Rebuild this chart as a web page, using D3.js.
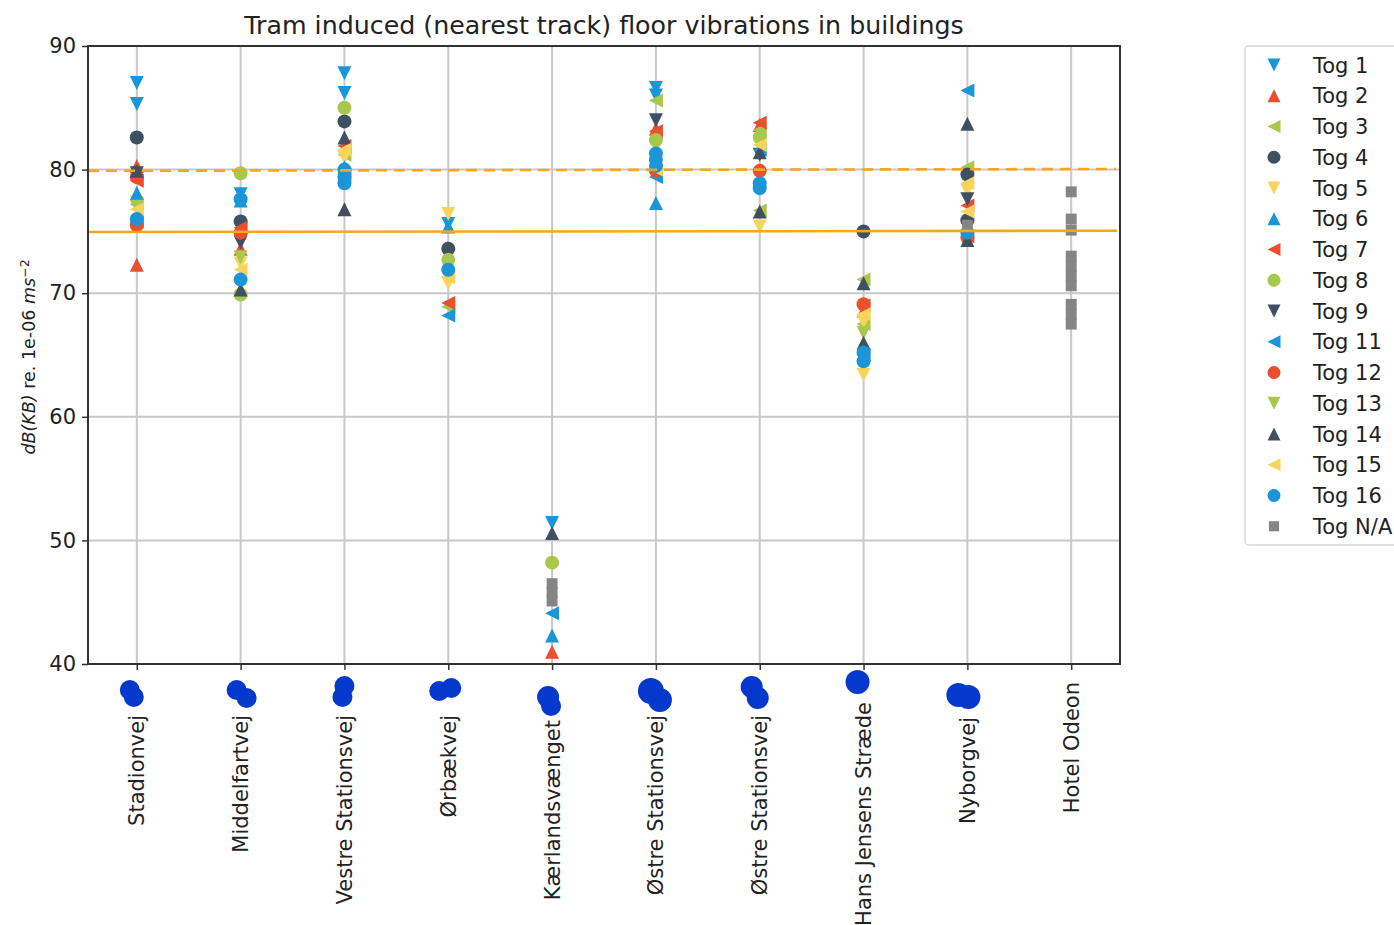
<!DOCTYPE html>
<html>
<head>
<meta charset="utf-8">
<script src="https://cdn.jsdelivr.net/npm/d3@7"></script>
<style>
  body { margin: 0; background: white; }
  svg text { font-family: "DejaVu Sans", sans-serif; }
</style>
</head>
<body>
<div id="plot"></div>
<script>
// building names along the x axis (two different buildings share a street name)
var categories = ["Stadionvej", "Middelfartvej", "Vestre Stationsvej", "Ørbækvej", "Kærlandsvænget",
    "Østre Stationsvej", "Østre Stationsvej", "Hans Jensens Stræde", "Nyborgvej", "Hotel Odeon"]

var yTicks = [40, 50, 60, 70, 80, 90]

// limit lines: [value at left edge, value at right edge]
var limitDashed = [79.9, 80.05]
var limitSolid = [74.95, 75.05]

// measurements per train: [building index, dB]
var tog1 = [[0, 87.0], [0, 85.3], [1, 78.0], [2, 87.8], [2, 86.2], [3, 75.6], [4, 51.4], [5, 86.6], [5, 86.0]]
var tog2 = [[0, 80.3], [0, 72.3], [1, 73.6], [4, 41.0], [5, 83.3], [6, 83.6], [7, 68.6]]
var tog3 = [[0, 77.2], [2, 81.2], [3, 68.9], [5, 85.6], [6, 83.2], [6, 76.7], [7, 71.1], [7, 67.5], [8, 80.2]]
var tog4 = [[0, 82.6], [1, 75.8], [2, 83.9], [3, 73.6], [7, 75.0], [8, 79.6], [8, 75.9]]
var tog5 = [[0, 77.3], [1, 72.4], [2, 81.0], [3, 76.4], [3, 70.8], [6, 82.3], [6, 75.4], [7, 67.7], [7, 63.4], [8, 78.3]]
var tog6 = [[0, 78.1], [1, 77.5], [2, 80.2], [3, 75.4], [4, 42.3], [5, 77.3]]
var tog7 = [[0, 79.1], [1, 75.3], [2, 81.9], [3, 69.2], [5, 83.1], [6, 83.8], [7, 69.0], [8, 77.1], [8, 74.6]]
var tog8 = [[1, 79.7], [1, 69.9], [2, 85.0], [3, 72.7], [4, 48.2], [5, 82.4], [6, 82.6]]
var tog9 = [[0, 79.7], [1, 74.1], [5, 84.0], [6, 81.2], [8, 77.6]]
var tog11 = [[0, 75.8], [2, 79.6], [3, 68.2], [4, 44.1], [5, 79.4], [6, 81.6], [7, 65.0], [8, 86.4]]
var tog12 = [[0, 79.4], [0, 75.5], [1, 74.9], [5, 79.9], [6, 79.9], [7, 69.1], [8, 74.5]]
var tog13 = [[0, 77.0], [1, 72.9], [5, 82.0], [7, 66.8]]
var tog14 = [[0, 79.9], [1, 70.3], [2, 82.6], [2, 76.8], [4, 50.6], [6, 81.4], [6, 76.6], [7, 70.8], [7, 66.0], [8, 83.7], [8, 74.3]]
var tog15 = [[0, 76.8], [1, 71.9], [2, 81.6], [3, 71.3], [5, 80.0], [6, 82.0], [7, 68.3], [8, 78.9], [8, 76.6]]
var tog16 = [[0, 76.0], [1, 77.6], [1, 71.1], [2, 80.0], [2, 79.4], [2, 78.9], [3, 71.9], [5, 81.3], [5, 80.8], [5, 80.3],
    [6, 78.9], [6, 78.5], [7, 65.2], [7, 64.5], [8, 74.9]]
var togNA = [[4, 46.5], [4, 45.8], [4, 45.1], [8, 75.5], [9, 78.2], [9, 76.0], [9, 75.1], [9, 73.0], [9, 72.2], [9, 71.4],
    [9, 70.6], [9, 69.1], [9, 68.3], [9, 67.5]]

var seriesNames = ["Tog 1", "Tog 2", "Tog 3", "Tog 4", "Tog 5", "Tog 6", "Tog 7", "Tog 8", "Tog 9", "Tog 11",
    "Tog 12", "Tog 13", "Tog 14", "Tog 15", "Tog 16", "Tog N/A"]
var seriesData = [tog1, tog2, tog3, tog4, tog5, tog6, tog7, tog8, tog9, tog11, tog12, tog13, tog14, tog15, tog16, togNA]

// styles
var blue = "#1a96d8", red = "#e8502e", green = "#a6c84c", dark = "#3e5061", yellow = "#f7d55c", gray = "#858585"
var seriesColors = [blue, red, green, dark, yellow, blue, red, green, dark, blue, red, green, dark, yellow, blue, gray]
var seriesMarkers = ["v", "^", "<", "o", "v", "^", "<", "o", "v", "<", "o", "v", "^", "<", "o", "s"]

// image dimensions and plot area
var w = 1394
var h = 925
var plotLeft = 88, plotRight = 1120, plotTop = 46, plotBottom = 664

var svg = d3.select("#plot").append("svg")
    .attr("width", w)
    .attr("height", h)

var xScale = d3.scalePoint()
    .domain(d3.range(categories.length))
    .range([plotLeft, plotRight])
    .padding(0.47)

var yScale = d3.scaleLinear()
    .domain([40, 90])
    .range([plotBottom, plotTop])

// marker path for a given shape
function markerPath(shape, s) {
    if (shape == "o") return d3.symbol(d3.symbolCircle, Math.PI * s * s)()
    if (shape == "s") return "M" + (-s * 0.78) + "," + (-s * 0.78) + "h" + (s * 1.56) + "v" + (s * 1.56) + "h" + (-s * 1.56) + "Z"
    if (shape == "^") return "M0," + (-s) + "L" + s + "," + s + "L" + (-s) + "," + s + "Z"
    if (shape == "v") return "M0," + s + "L" + s + "," + (-s) + "L" + (-s) + "," + (-s) + "Z"
    return "M" + (-s) + ",0L" + s + "," + (-s) + "L" + s + "," + s + "Z"
}

// grid lines
svg.append("g")
    .selectAll("line")
    .data(yTicks)
    .enter()
    .append("line")
    .attr("x1", plotLeft).attr("x2", plotRight)
    .attr("y1", function(d) { return yScale(d) })
    .attr("y2", function(d) { return yScale(d) })
    .attr("stroke", "#c8c8c8")
    .attr("stroke-width", 2)

svg.append("g")
    .selectAll("line")
    .data(d3.range(categories.length))
    .enter()
    .append("line")
    .attr("x1", function(d) { return xScale(d) })
    .attr("x2", function(d) { return xScale(d) })
    .attr("y1", plotTop).attr("y2", plotBottom)
    .attr("stroke", "#c8c8c8")
    .attr("stroke-width", 2)

// points
seriesData.forEach(function(data, i) {
    svg.append("g")
        .selectAll("path")
        .data(data)
        .enter()
        .append("path")
        .attr("d", markerPath(seriesMarkers[i], 7))
        .attr("transform", function(d) { return "translate(" + xScale(d[0]) + "," + yScale(d[1]) + ")" })
        .attr("fill", seriesColors[i])
})

// limit lines
svg.append("line")
    .attr("x1", plotLeft).attr("x2", plotRight - 4)
    .attr("y1", yScale(limitDashed[0])).attr("y2", yScale(limitDashed[1]))
    .attr("stroke", "#f5a623")
    .attr("stroke-width", 2.6)
    .attr("stroke-dasharray", "11,7")

svg.append("line")
    .attr("x1", plotLeft).attr("x2", plotRight - 3)
    .attr("y1", yScale(limitSolid[0])).attr("y2", yScale(limitSolid[1]))
    .attr("stroke", "#f5a623")
    .attr("stroke-width", 2.6)

// axes
var yAxis = d3.axisLeft(yScale).tickValues(yTicks).tickSize(6).tickPadding(6)
var gy = svg.append("g")
    .attr("transform", "translate(" + plotLeft + ",0)")
    .call(yAxis)
gy.selectAll("text").attr("font-size", "21px").attr("fill", "#222").attr("font-family", "'DejaVu Sans', sans-serif")
gy.selectAll("line").attr("stroke", "#333").attr("stroke-width", 1.5)
gy.select(".domain").remove()

var xAxis = d3.axisBottom(xScale).tickSize(6).tickFormat("")
var gx = svg.append("g")
    .attr("transform", "translate(0," + plotBottom + ")")
    .call(xAxis)
gx.selectAll("line").attr("stroke", "#333").attr("stroke-width", 1.5)
gx.select(".domain").remove()

// frame
svg.append("rect")
    .attr("x", plotLeft).attr("y", plotTop)
    .attr("width", plotRight - plotLeft).attr("height", plotBottom - plotTop)
    .attr("fill", "none")
    .attr("stroke", "#333")
    .attr("stroke-width", 2)

// rotated building labels (distance below the axis differs per label)
var labelPad = [51, 51, 51, 51, 56, 51, 51, 38, 53, 18]
svg.append("g")
    .selectAll("text")
    .data(categories)
    .enter()
    .append("text")
    .attr("transform", function(d, i) { return "translate(" + xScale(i) + "," + (plotBottom + labelPad[i]) + ") rotate(-90)" })
    .attr("text-anchor", "end")
    .attr("dy", "0.36em")
    .attr("font-size", "21px")
    .attr("fill", "#222")
    .text(function(d) { return d })

// hand-drawn blue blobs over the labels: [dx, y, r] per circle
var blobs = [
    [[-7, 690, 10], [-3, 697, 10]],
    [[-4, 690, 10], [6, 698, 10]],
    [[0, 686, 10], [-2, 697, 10]],
    [[-9, 691, 10], [3, 688, 10]],
    [[-4, 697, 11], [-1, 706, 10]],
    [[-5, 691, 13], [4, 700, 12]],
    [[-8, 687, 11], [-2, 698, 11]],
    [[-6, 682, 12]],
    [[-9, 695, 12], [1, 697, 12]]
]
blobs.forEach(function(b, i) {
    svg.append("g")
        .selectAll("circle")
        .data(b)
        .enter()
        .append("circle")
        .attr("cx", function(d) { return xScale(i) + d[0] })
        .attr("cy", function(d) { return d[1] })
        .attr("r", function(d) { return d[2] })
        .attr("fill", "#0538cc")
})

// title
svg.append("text")
    .attr("x", (plotLeft + plotRight) / 2)
    .attr("y", 34)
    .attr("text-anchor", "middle")
    .attr("font-size", "25.3px")
    .attr("fill", "#222")
    .text("Tram induced (nearest track) floor vibrations in buildings")

// y label with mathtext style parts
var ylab = svg.append("text")
    .attr("transform", "translate(35," + 357 + ") rotate(-90)")
    .attr("text-anchor", "middle")
    .attr("font-size", "17.5px")
    .attr("fill", "#222")
ylab.append("tspan").attr("font-style", "italic").text("dB(KB)")
ylab.append("tspan").text(" re. 1e-06 ")
ylab.append("tspan").attr("font-style", "italic").text("ms")
ylab.append("tspan").attr("dy", "-0.45em").attr("font-size", "12.5px").text("−2")

// legend
var legendX = 1245, legendY = 46, rowH = 30.75
var legend = svg.append("g")
legend.append("rect")
    .attr("x", legendX).attr("y", legendY)
    .attr("width", 170).attr("height", 499)
    .attr("rx", 4)
    .attr("fill", "white")
    .attr("stroke", "#d6d6d6")
    .attr("stroke-width", 1.5)

var rows = legend.selectAll("g.row")
    .data(seriesNames)
    .enter()
    .append("g")
    .attr("class", "row")
    .attr("transform", function(d, i) { return "translate(" + legendX + "," + (legendY + 19 + i * rowH) + ")" })

rows.append("path")
    .attr("d", function(d, i) { return markerPath(seriesMarkers[i], 6.5) })
    .attr("transform", "translate(29,0)")
    .attr("fill", function(d, i) { return seriesColors[i] })

rows.append("text")
    .attr("x", 68)
    .attr("dy", "0.36em")
    .attr("font-size", "21px")
    .attr("fill", "#222")
    .text(function(d) { return d })
</script>
</body>
</html>
